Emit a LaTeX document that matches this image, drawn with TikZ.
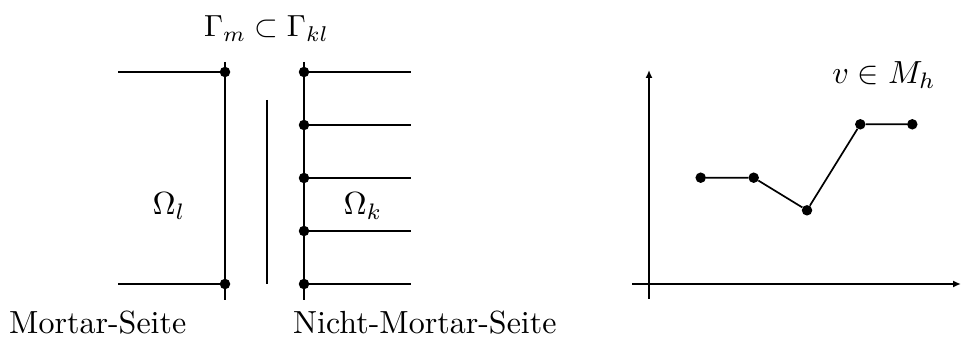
\documentclass[tikz,border=0pt]{standalone}
\usepackage{graphicx}
\usetikzlibrary{arrows.meta}
\newcommand{\bigtxt}[1]{\scalebox{3.2}{#1}}
\begin{document}
\begin{tikzpicture}[x=1pt,y=-1pt,
  lbl/.style={inner sep=0pt},
  ln/.style={line width=1.7pt},
  thin/.style={line width=1.1pt},
  axis/.style={line width=2.3pt,-{Latex[length=8pt,width=7pt]}},
  dot/.style={circle,fill=black,inner sep=0pt,minimum size=10.5pt}]
\useasboundingbox (0,0) rectangle (962,339);
% left domain
\coordinate (lt) at (225,62); \coordinate (lb) at (225,300);
\draw[ln] (lt) -- (lb);
\node[dot] (l1) at (225,72) {};
\node[dot] (l2) at (225,284) {};
\coordinate (la) at (118,72); \coordinate (lc) at (118,284);
\draw[ln] (la) -- (l1); \draw[ln] (lc) -- (l2);
% middle line
\coordinate (mt) at (267,100); \coordinate (mb) at (267,284);
\draw[thin] (mt) -- (mb);
% right domain
\coordinate (rt) at (304,62); \coordinate (rb) at (304,300);
\draw[ln] (rt) -- (rb);
\foreach \i/\y in {1/72,2/125,3/178,4/231,5/284}{
  \node[dot] (r\i) at (304,\y) {};
  \coordinate (re\i) at (411,\y);
  \draw[ln] (r\i) -- (re\i);
}
% labels
\node[lbl,anchor=base] (gam) at (266.5,37) {\scalebox{3.05}{$\Gamma_m\subset\Gamma_{kl}$}};
\node[lbl] (oml) at (169,206) {\bigtxt{$\Omega_l$}};
\node[lbl] (omk) at (363,206) {\bigtxt{$\Omega_k$}};
\node[lbl,anchor=base west] (ms) at (9,334) {\bigtxt{Mortar-Seite}};
\node[lbl,anchor=base west] (nms) at (293,334) {\bigtxt{Nicht-Mortar-Seite}};
% graph
\coordinate (xs) at (632,284); \coordinate (xe) at (961,284);
\coordinate (ys) at (649,299); \coordinate (ye) at (649,70);
\draw[axis] (xs) -- (xe);
\draw[axis] (ys) -- (ye);
\node[dot] (p1) at (700.7,177.7) {};
\node[dot] (p2) at (753.7,177.7) {};
\node[dot] (p3) at (807,210.3) {};
\node[dot] (p4) at (860.3,124.3) {};
\node[dot] (p5) at (912.3,124.3) {};
\draw[ln] (p1) -- (p2) -- (p3) -- (p4) -- (p5);
\node[lbl,anchor=base] (v) at (884,84) {\bigtxt{$v\in M_h$}};
\end{tikzpicture}
\end{document}
